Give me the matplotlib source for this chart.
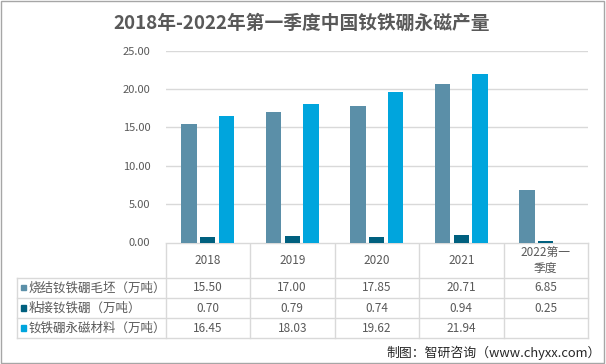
""" 2018-2022 Q1 China NdFeB magnet output, bar chart with data table """

import matplotlib.pyplot as plt, numpy as np
from matplotlib.patches import Rectangle

plt.rcParams['font.family'] = ['Noto Sans CJK SC', 'DejaVu Sans']

categories = ['2018', '2019', '2020', '2021', '2022第一\n季度']
series_names = ['烧结钕铁硼毛坯（万吨）', '粘接钕铁硼（万吨）', '钕铁硼永磁材料（万吨）']
sintered = [15.50, 17.00, 17.85, 20.71, 6.85]
bonded = [0.70, 0.79, 0.74, 0.94, 0.25]
magnet = [16.45, 18.03, 19.62, 21.94, None]
yticks = [0, 5, 10, 15, 20, 25]

colors = ['#5B8FA8', '#00607F', '#00A5DD']
txt = '#595959'
grid = '#D9D9D9'

W, H = 606, 364
fig = plt.figure(figsize=(W/100, H/100), dpi=100)

# pixel layout of the plot area and the table below it
x0, x1 = 165.5, 588
y_top, y_zero = 50.7, 242.5
tab_left = 16.7
row_edges = [242.5, 277.7, 298, 318, 338]

ax = fig.add_axes([x0/W, 1-y_zero/H, (x1-x0)/W, (y_zero-y_top)/H])
n = len(categories)
x = np.arange(n)
off = 0.222
bw = 0.18
data = [sintered, bonded, magnet]
for k, vals in enumerate(data):
	xs = [x[i] + (k-1)*off for i in range(n) if vals[i] is not None]
	vs = [v for v in vals if v is not None]
	ax.bar(xs, vs, width=bw, color=colors[k], zorder=3)

ax.set_xlim(-0.5, n-0.5)
ax.set_ylim(0, 25)
ax.set_yticks(yticks)
ax.set_yticklabels(['{:.2f}'.format(v) for v in yticks], color=txt, fontsize=8)
ax.set_xticks([])
ax.tick_params(axis='y', length=0, pad=11)
ax.yaxis.grid(True, color=grid, linewidth=1, zorder=0)
for s in ax.spines.values():
	s.set_visible(False)

# overlay in pixel coordinates for the table, frame and texts
ov = fig.add_axes([0, 0, 1, 1], zorder=-1)
ov.set_xlim(0, W)
ov.set_ylim(H, 0)
ov.axis('off')

cw = (x1 - x0) / n
col_edges = [x0 + i*cw for i in range(n+1)]

# horizontal lines
ov.plot([x0, x1], [row_edges[0]]*2, color=grid, lw=1)
for y in row_edges[1:]:
	ov.plot([tab_left, x1], [y, y], color=grid, lw=1)
# vertical lines
for xe in col_edges:
	ov.plot([xe, xe], [row_edges[0], row_edges[-1]], color=grid, lw=1)
ov.plot([tab_left, tab_left], [row_edges[1], row_edges[-1]], color=grid, lw=1)

# header
for i, c in enumerate(categories):
	ov.text(x0 + (i+0.5)*cw, (row_edges[0]+row_edges[1])/2, c, ha='center', va='center',
		color=txt, fontsize=8.5, linespacing=1.3)

# rows
for k, vals in enumerate(data):
	yc = (row_edges[k+1] + row_edges[k+2]) / 2
	ov.add_patch(Rectangle((20.7, yc-2.7), 5.2, 5.2, color=colors[k]))
	ov.text(29, yc, series_names[k], ha='left', va='center', color=txt, fontsize=9)
	for i, v in enumerate(vals):
		if v is None:
			continue
		ov.text(x0 + (i+0.5)*cw, yc, '{:.2f}'.format(v), ha='center', va='center',
			color=txt, fontsize=8.5)

# title and source
ov.text(302, 23, '2018年-2022年第一季度中国钕铁硼永磁产量', ha='center', va='center',
	color=txt, fontsize=13.5, fontweight='bold')
ov.text(601, 352.5, '制图：智研咨询（www.chyxx.com）', ha='right', va='center',
	color='#262626', fontsize=9.3)

# outer frame
ov.add_patch(Rectangle((0.5, 0.5), 603, 362, fill=False, edgecolor='#A6A6A6', lw=1))

plt.savefig('out.png', dpi=100)
